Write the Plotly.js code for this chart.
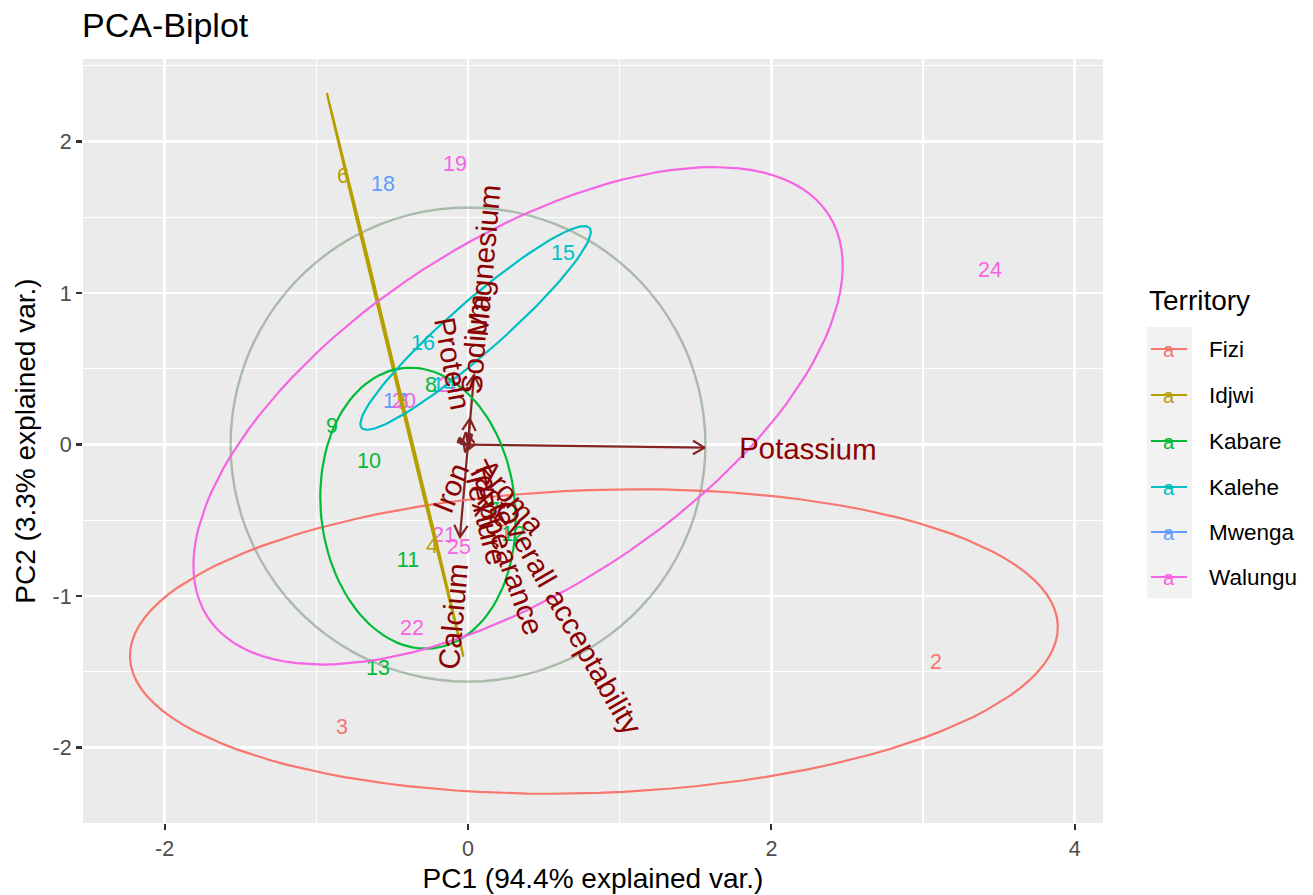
<!DOCTYPE html>
<html><head><meta charset="utf-8">
<script src="https://cdn.plot.ly/plotly-3.0.1.min.js"></script>
<style>body{margin:0;background:#fff}#chart{width:1313px;height:895px}</style>
</head><body><div id="chart"></div>
<script>
// ---------- data ----------
const sampleLabels = ['1','2','3','4','5','6','7','8','9','10','11','12','13','14','15','16','17','18','19','20','21','22','23','24','25'];
const sampleTerritory = ['Fizi','Fizi','Fizi','Idjwi','Idjwi','Idjwi','Kabare','Kabare','Kabare','Kabare','Kabare','Kabare','Kabare','Kalehe','Kalehe','Kalehe','Mwenga','Mwenga','Walungu','Walungu','Walungu','Walungu','Walungu','Walungu','Walungu'];
const samplePC1 = [0.25, 3.085, -0.831, -0.237, -0.43, -0.824, 0.17, -0.244, -0.897, -0.653, -0.396, 0.30, -0.593, -0.158, 0.626, -0.297, -0.481, -0.560, -0.086, -0.422, -0.158, -0.369, -0.119, 3.441, -0.059];
const samplePC2 = [-0.58, -1.449, -1.878, -0.683, 0.27, 1.759, -0.44, 0.380, 0.109, -0.122, -0.776, -0.60, -1.488, 0.385, 1.251, 0.657, 0.274, 1.706, 1.838, 0.274, -0.611, -1.224, 0.38, 1.139, -0.690];

const territories = ['Fizi','Idjwi','Kabare','Kalehe','Mwenga','Walungu'];
const territoryColors = ['#F8766D','#B79F00','#00BA38','#00BFC4','#619CFF','#F564E3'];

// group ellipses (centre, semi-axes, rotation in degrees)
const ellTerritory = ['Fizi','Idjwi','Kabare','Kalehe','Walungu'];
const ellCenterX = [0.83, -0.48, -0.33, 0.05, 0.33];
const ellCenterY = [-1.30, 0.46, -0.42, 0.77, 0.19];
const ellSemiMajor = [3.06, 1.914, 0.93, 1.0, 2.44];
const ellSemiMinor = [1.0, 0.007, 0.64, 0.17, 1.15];
const ellAngleDeg = [2, 103.6, 96, 41.3, 33];

const circleRadius = 1.565;

// variable loadings (arrow tips)
const varNames = ['Potassium','Magnesium','Sodium','Protein','Iron','Calcium','Aroma','Taste','Texture','Appearance','Overall acceptability'];
const varPC1 = [1.56, 0.04, 0.012, -0.015, -0.02, -0.053, 0.010, 0.008, 0.004, 0.005, 0.0075];
const varPC2 = [-0.02, 0.46, 0.17, 0.08, -0.05, -0.61, -0.012, -0.016, -0.016, -0.014, -0.013];

// ---------- layout geometry ----------
const W = 1313, H = 895;
const M = {l: 83, r: 210, t: 59, b: 72};
const xRange = [-2.538, 4.186];
const yRange = [-2.498, 2.545];
const plotW = W - M.l - M.r, plotH = H - M.t - M.b;
const pxPerX = plotW / (xRange[1] - xRange[0]);
const pxPerY = plotH / (yRange[1] - yRange[0]);

const FONT = 'Liberation Sans, Arial, Helvetica, sans-serif';
const VARFONT = 29.5;
const canvas = document.createElement('canvas');
const ctx = canvas.getContext('2d');
function textWidth(s, size) { ctx.font = size + 'px "Liberation Sans"'; return ctx.measureText(s).width; }

const traces = [];
// correlation circle
(function () {
  const xs = [], ys = [];
  for (let i = 0; i <= 100; i++) { const t = -Math.PI + 2 * Math.PI * i / 100; xs.push(circleRadius * Math.cos(t)); ys.push(circleRadius * Math.sin(t)); }
  traces.push({x: xs, y: ys, mode: 'lines', line: {color: 'rgba(40,88,40,0.33)', width: 2.4}, hoverinfo: 'skip', showlegend: false});
})();

// arrows
const arrowColor = '#832424';
varNames.forEach((n, i) => {
  const tx = varPC1[i], ty = varPC2[i];
  traces.push({x: [0, tx], y: [0, ty], mode: 'lines', line: {color: arrowColor, width: 2.2}, hoverinfo: 'skip', showlegend: false});
  const ang = Math.atan2(ty * pxPerY, tx * pxPerX);
  const L = 13.5;
  const hx = [], hy = [];
  [Math.PI / 6, 0, -Math.PI / 6].forEach((d, k) => {
    if (k === 1) { hx.push(tx); hy.push(ty); return; }
    const a = ang + Math.PI + d;
    hx.push(tx + L * Math.cos(a) / pxPerX); hy.push(ty + L * Math.sin(a) / pxPerY);
  });
  traces.push({x: hx, y: hy, mode: 'lines', line: {color: arrowColor, width: 2.2}, hoverinfo: 'skip', showlegend: false});
});

// sample labels
territories.forEach((t, gi) => {
  const idx = sampleLabels.map((_, i) => i).filter(i => sampleTerritory[i] === t);
  traces.push({
    x: idx.map(i => samplePC1[i]), y: idx.map(i => samplePC2[i]), text: idx.map(i => sampleLabels[i]),
    mode: 'text', textposition: 'middle center', textfont: {family: FONT, size: 21.5, color: territoryColors[gi]},
    cliponaxis: false, hoverinfo: 'text', showlegend: false, name: t
  });
});

// ellipses
ellTerritory.forEach((t, k) => {
  const col = territoryColors[territories.indexOf(t)];
  const th = ellAngleDeg[k] * Math.PI / 180;
  const xs = [], ys = [];
  for (let i = 0; i <= 120; i++) {
    const u = 2 * Math.PI * i / 120;
    const ex = ellSemiMajor[k] * Math.cos(u), ey = ellSemiMinor[k] * Math.sin(u);
    xs.push(ellCenterX[k] + ex * Math.cos(th) - ey * Math.sin(th));
    ys.push(ellCenterY[k] + ex * Math.sin(th) + ey * Math.cos(th));
  }
  traces.push({x: xs, y: ys, mode: 'lines', line: {color: col, width: 2.2}, hoverinfo: 'skip', showlegend: false, name: t});
});

// variable name annotations (ggbiplot placement: hjust -0.25 / 1.25 along angle)
const annotations = [];
varNames.forEach((n, i) => {
  const tx = varPC1[i], ty = varPC2[i];
  const wpx = textWidth(n, VARFONT);
  const a = Math.atan2(ty * pxPerY, tx * pxPerX);
  const d = 0.75 * wpx;
  const cx = tx + d * Math.cos(a) / pxPerX, cy = ty + d * Math.sin(a) / pxPerY;
  const ggAngle = Math.atan(ty / tx) * 180 / Math.PI;
  annotations.push({x: cx, y: cy, xref: 'x', yref: 'y', text: n, showarrow: false, textangle: -ggAngle,
    xanchor: 'center', yanchor: 'middle', font: {family: FONT, size: VARFONT, color: '#8B0000'}});
});

// custom legend (ggplot style)
const px2x = p => (p - M.l) / plotW, px2y = p => (H - M.b - p) / plotH;
const shapes = [{type: 'rect', xref: 'paper', yref: 'paper', x0: px2x(1147), x1: px2x(1192), y0: px2y(598), y1: px2y(327), fillcolor: '#F2F2F2', line: {width: 0}, layer: 'below'}];
annotations.push({xref: 'paper', yref: 'paper', x: px2x(1147), y: px2y(300), xanchor: 'left', yanchor: 'middle', text: 'Territory', showarrow: false, font: {family: FONT, size: 28, color: '#000'}});
const keyY = [349, 395, 441, 487, 532, 577];
territories.forEach((t, i) => {
  shapes.push({type: 'line', xref: 'paper', yref: 'paper', x0: px2x(1151), x1: px2x(1187), y0: px2y(keyY[i]), y1: px2y(keyY[i]), line: {color: territoryColors[i], width: 2.2}});
  annotations.push({xref: 'paper', yref: 'paper', x: px2x(1169), y: px2y(keyY[i] + 1), xanchor: 'center', yanchor: 'middle', text: 'a', showarrow: false, font: {family: FONT, size: 20, color: territoryColors[i]}});
  annotations.push({xref: 'paper', yref: 'paper', x: px2x(1207), y: px2y(keyY[i]), xanchor: 'left', yanchor: 'middle', text: t, showarrow: false, font: {family: FONT, size: 22.5, color: '#000'}});
});

const axisCommon = {
  showgrid: true, gridcolor: '#FFFFFF', gridwidth: 2.6, zeroline: false, showline: false,
  ticks: 'outside', ticklen: 6, tickwidth: 2.2, tickcolor: '#333333',
  tickfont: {family: FONT, size: 21.5, color: '#4D4D4D'}, fixedrange: true
};
const layout = {
  width: W, height: H, margin: M, paper_bgcolor: '#FFFFFF', plot_bgcolor: '#EBEBEB',
  font: {family: FONT},
  title: {text: 'PCA-Biplot', x: 82 / W, xanchor: 'left', xref: 'container', y: 1 - 25 / H, yanchor: 'middle', yref: 'container', font: {family: FONT, size: 34, color: '#000'}},
  xaxis: Object.assign({}, axisCommon, {range: xRange, tickvals: [-2, 0, 2, 4], ticktext: ['-2', '0', '2', '4'],
    minor: {tickvals: [-1, 1, 3], showgrid: true, gridcolor: '#FFFFFF', gridwidth: 1.3, ticks: ''},
    title: {text: 'PC1 (94.4% explained var.)', font: {family: FONT, size: 28, color: '#000'}, standoff: 8}}),
  yaxis: Object.assign({}, axisCommon, {range: yRange, tickvals: [-2, -1, 0, 1, 2], ticktext: ['-2', '-1', '0', '1', '2'],
    minor: {tickvals: [-2.5, -1.5, -0.5, 0.5, 1.5, 2.5], showgrid: true, gridcolor: '#FFFFFF', gridwidth: 1.3, ticks: ''},
    title: {text: 'PC2 (3.3% explained var.)', font: {family: FONT, size: 28, color: '#000'}, standoff: 8}}),
  showlegend: false, annotations: annotations, shapes: shapes
};
Plotly.newPlot('chart', traces, layout, {displayModeBar: false, staticPlot: true});
</script>
</body></html>
